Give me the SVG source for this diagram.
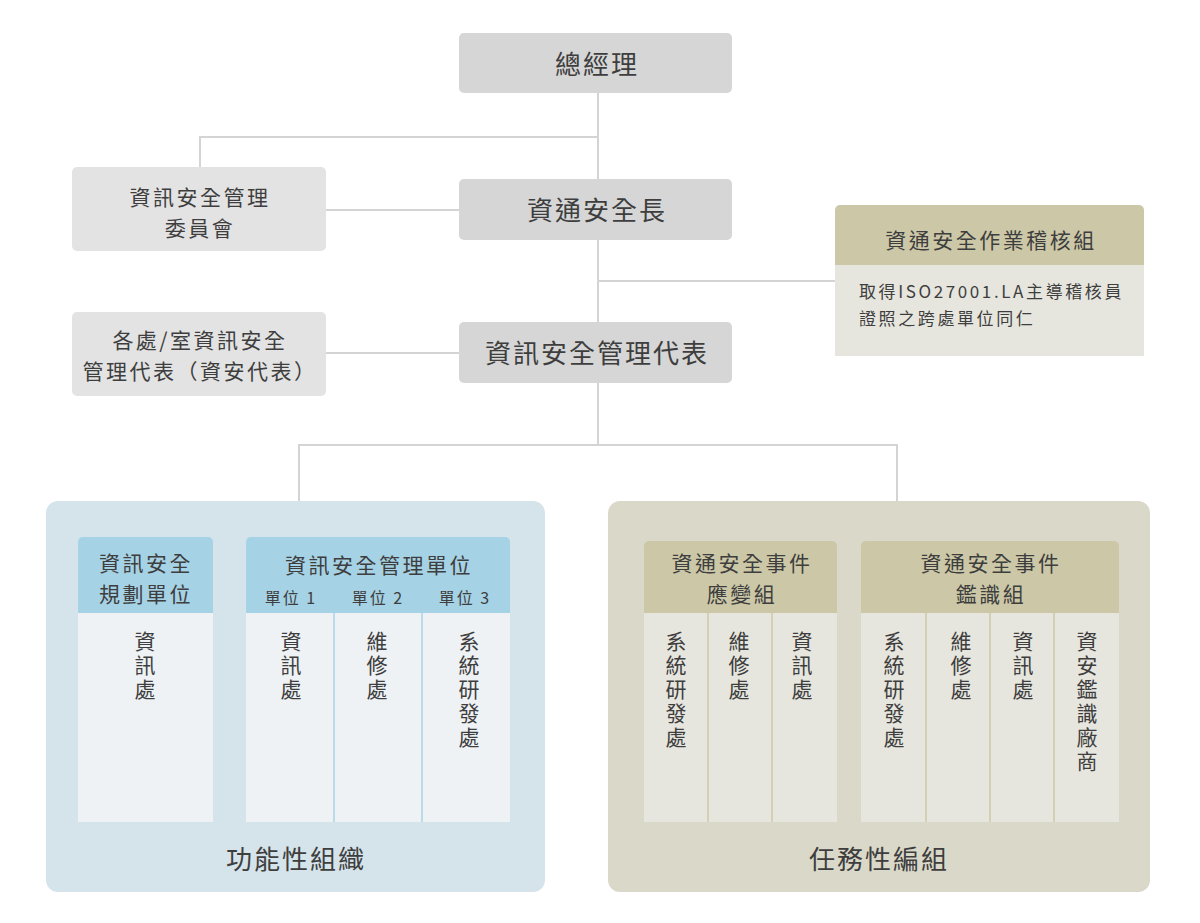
<svg xmlns="http://www.w3.org/2000/svg" width="1200" height="923" viewBox="0 0 1200 923">
<style>
text{font-family:"Noto Sans CJK TC","Noto Sans CJK SC",sans-serif;fill:#3e3e3e;text-anchor:middle}
.big{font-size:26px;letter-spacing:2px}
.mid{font-size:21px;letter-spacing:2.5px}
.sm{font-size:16px;letter-spacing:2px}
.body{font-size:17px;letter-spacing:2.6px;text-anchor:start}
.vt{font-size:21px;letter-spacing:3px;writing-mode:vertical-rl;text-anchor:start}
.lbl{font-size:26px;letter-spacing:2px}
.main{fill:#d6d6d6}
.side{fill:#e3e3e3}
.conn{stroke:#d4d4d4;stroke-width:2;fill:none}
.bh{fill:#a5d2e5}.bb{fill:#eef2f5}.bd{stroke:#a9d3e6;stroke-width:1.5}
.kh{fill:#ccc8a7}.kb{fill:#e7e6de}.kd{stroke:#ccc8a7;stroke-width:1.5}
</style>
<g id="connectors" class="conn">
<path d="M598 93V445"/>
<path d="M200 167V137H598"/>
<path d="M326 210H459"/>
<path d="M598 281H835"/>
<path d="M326 353H459"/>
<path d="M299 501V445H897V501"/>
</g>
<g id="ceo"><rect class="main" x="459" y="33" width="273" height="60" rx="5"/><text class="big" x="597" y="74">總經理</text></g>
<g id="ciso"><rect class="main" x="459" y="179" width="273" height="61" rx="5"/><text class="big" x="597" y="220">資通安全長</text></g>
<g id="isrep"><rect class="main" x="459" y="322" width="273" height="61" rx="5"/><text class="big" x="597" y="363">資訊安全管理代表</text></g>
<g id="committee"><rect class="side" x="72" y="167" width="254" height="84" rx="5"/><text class="mid" x="200" y="205"><tspan x="200">資訊安全管理</tspan><tspan x="200" dy="31">委員會</tspan></text></g>
<g id="deptrep"><rect class="side" x="72" y="312" width="254" height="84" rx="5"/><text class="mid" x="200" y="348"><tspan x="200">各處/室資訊安全</tspan><tspan x="200" dy="31">管理代表（資安代表）</tspan></text></g>
<g id="audit">
<path class="kh" d="M835 265V210a5 5 0 0 1 5-5H1139a5 5 0 0 1 5 5V265Z"/>
<rect class="kb" x="835" y="265" width="309" height="91"/>
<text class="mid" x="991" y="248">資通安全作業稽核組</text>
<text class="body" x="859" y="298"><tspan x="859">取得ISO27001.LA主導稽核員</tspan><tspan x="859" dy="27">證照之跨處單位同仁</tspan></text>
</g>
<g id="functional">
<rect x="46" y="501" width="499" height="391" rx="12" fill="#d5e3ea"/>
<text class="lbl" x="296" y="869">功能性組織</text>
<g id="planning">
<path class="bh" d="M78 613V542a5 5 0 0 1 5-5H208a5 5 0 0 1 5 5V613Z"/>
<rect class="bb" x="78" y="613" width="135" height="209"/>
<text class="mid" x="146" y="571"><tspan x="146">資訊安全</tspan><tspan x="146" dy="31">規劃單位</tspan></text>
<text class="vt" x="145" y="631">資訊處</text>
</g>
<g id="mgmt">
<path class="bh" d="M246 613V542a5 5 0 0 1 5-5H505a5 5 0 0 1 5 5V613Z"/>
<rect class="bb" x="246" y="613" width="264" height="209"/>
<line class="bd" x1="334" y1="613" x2="334" y2="822"/>
<line class="bd" x1="422" y1="613" x2="422" y2="822"/>
<text class="mid" x="379" y="573">資訊安全管理單位</text>
<text class="sm" x="291" y="604">單位 1</text>
<text class="sm" x="378" y="604">單位 2</text>
<text class="sm" x="465" y="604">單位 3</text>
<text class="vt" x="291" y="631">資訊處</text>
<text class="vt" x="377" y="631">維修處</text>
<text class="vt" x="469" y="631">系統研發處</text>
</g>
</g>
<g id="task">
<rect x="608" y="501" width="542" height="391" rx="12" fill="#d9d8c9"/>
<text class="lbl" x="879" y="869">任務性編組</text>
<g id="response">
<path class="kh" d="M644 613V546a5 5 0 0 1 5-5H832a5 5 0 0 1 5 5V613Z"/>
<rect class="kb" x="644" y="613" width="193" height="209"/>
<line class="kd" x1="708" y1="613" x2="708" y2="822"/>
<line class="kd" x1="772" y1="613" x2="772" y2="822"/>
<text class="mid" x="742" y="571"><tspan x="742">資通安全事件</tspan><tspan x="742" dy="31">應變組</tspan></text>
<text class="vt" x="676" y="631">系統研發處</text>
<text class="vt" x="739" y="631">維修處</text>
<text class="vt" x="802" y="631">資訊處</text>
</g>
<g id="forensics">
<path class="kh" d="M861 613V546a5 5 0 0 1 5-5H1114a5 5 0 0 1 5 5V613Z"/>
<rect class="kb" x="861" y="613" width="258" height="209"/>
<line class="kd" x1="926" y1="613" x2="926" y2="822"/>
<line class="kd" x1="990" y1="613" x2="990" y2="822"/>
<line class="kd" x1="1054" y1="613" x2="1054" y2="822"/>
<text class="mid" x="991" y="571"><tspan x="991">資通安全事件</tspan><tspan x="991" dy="31">鑑識組</tspan></text>
<text class="vt" x="894" y="631">系統研發處</text>
<text class="vt" x="961" y="631">維修處</text>
<text class="vt" x="1023" y="631">資訊處</text>
<text class="vt" x="1087" y="631">資安鑑識廠商</text>
</g>
</g>
</svg>
